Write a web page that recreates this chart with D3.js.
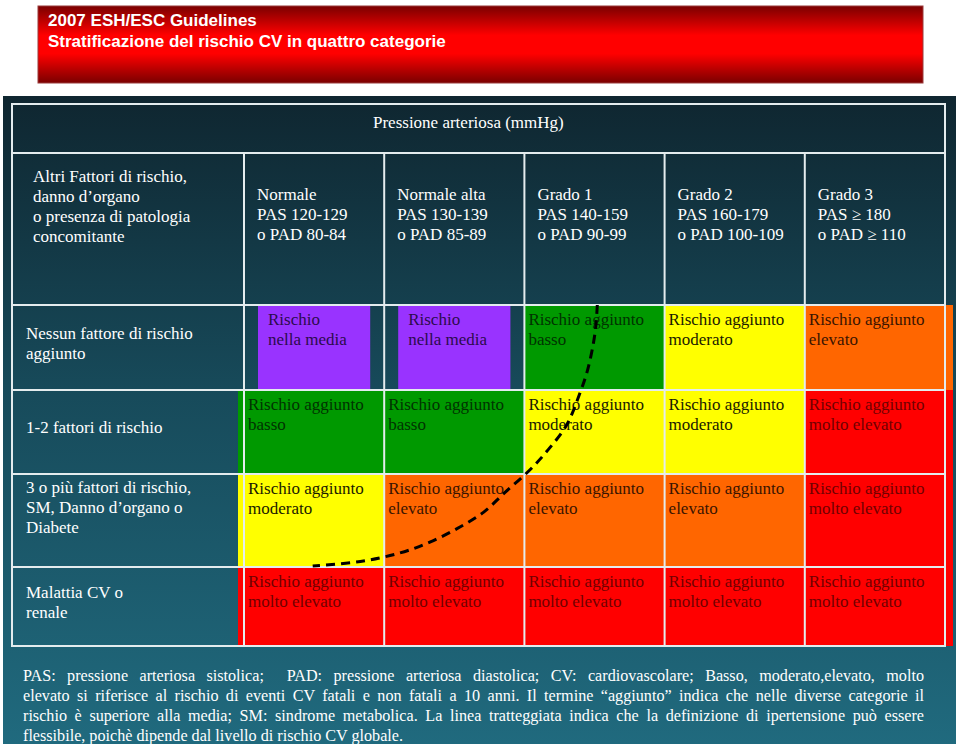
<!DOCTYPE html>
<html><head><meta charset="utf-8">
<script src="https://cdn.jsdelivr.net/npm/d3@7"></script>
<style>body{margin:0;background:#fff}svg{display:block}</style>
</head><body><svg id="c" width="960" height="746"></svg>
<script>
// ---------- data ----------
const titleLines = ["2007 ESH/ESC Guidelines", "Stratificazione del rischio CV in quattro categorie"];
const bpTitle = "Pressione arteriosa (mmHg)";
const rowHeaderTitle = ["Altri Fattori di rischio,", "danno d’organo", "o presenza di patologia", "concomitante"];
const bpCategories = [
  ["Normale", "PAS 120-129", "o PAD 80-84"],
  ["Normale alta", "PAS 130-139", "o PAD 85-89"],
  ["Grado 1", "PAS 140-159", "o PAD 90-99"],
  ["Grado 2", "PAS 160-179", "o PAD 100-109"],
  ["Grado 3", "PAS ≥ 180", "o PAD ≥ 110"]
];
const riskFactorCategories = [
  ["Nessun fattore di rischio", "aggiunto"],
  ["1-2 fattori di rischio"],
  ["3 o più fattori di rischio,", "SM, Danno d’organo o", "Diabete"],
  ["Malattia CV o", "renale"]
];
const riskLevels = ["nella media", "basso", "moderato", "elevato", "molto elevato"];
// risk level index per [risk-factor row][blood-pressure column]
const riskMatrix = [
  [0, 0, 1, 2, 3],
  [1, 1, 2, 2, 4],
  [2, 3, 3, 3, 4],
  [4, 4, 4, 4, 4]
];
// dashed threshold line, in grid units [column position, row position]
const thresholdCurve = [
  [2.52, 0.00], [2.51, 0.24], [2.49, 0.47], [2.45, 0.77], [2.40, 1.02],
  [2.30, 1.42], [2.17, 1.71], [2.04, 1.95], [1.86, 2.20], [1.71, 2.41],
  [1.54, 2.57], [1.33, 2.73], [1.11, 2.85], [0.83, 2.94], [0.49, 2.99]
];
const footnoteLines = [
  "PAS: pressione arteriosa sistolica;  PAD: pressione arteriosa diastolica; CV: cardiovascolare; Basso, moderato,elevato, molto",
  "elevato si riferisce al rischio di eventi CV fatali e non fatali a 10 anni. Il termine “aggiunto” indica che nelle diverse categorie il",
  "rischio è superiore alla media; SM: sindrome metabolica. La linea tratteggiata indica che la definizione di ipertensione può essere",
  "flessibile, poichè dipende dal livello di rischio CV globale."
];

// ---------- styles ----------
const levelFill = ["#9933ff", "#009900", "#ffff00", "#ff6600", "#ff0000"];
const levelText = ["#2c0b4d", "#003300", "#1a1a00", "#3a1400", "#700000"];
const serif = "'Liberation Serif','Times New Roman',serif";
const sans = "'Liberation Sans',Arial,sans-serif";

const svg = d3.select("#c");
const defs = svg.append("defs");

// header band gradient
const gRed = defs.append("linearGradient").attr("id", "gRed").attr("x1", 0).attr("y1", 0).attr("x2", 0).attr("y2", 1);
[[0, "#7a0000"], [0.38, "#ff0000"], [0.62, "#ff0000"], [1, "#7a0000"]].forEach(s =>
  gRed.append("stop").attr("offset", s[0]).attr("stop-color", s[1]));
// panel gradient
const gPanel = defs.append("linearGradient").attr("id", "gPanel").attr("x1", 0).attr("y1", 0).attr("x2", 0).attr("y2", 1);
[[0, "#0f2630"], [0.45, "#174a5a"], [1, "#206a7e"]].forEach(s =>
  gPanel.append("stop").attr("offset", s[0]).attr("stop-color", s[1]));

// ---------- header band ----------
svg.append("rect").attr("x", 38).attr("y", 6).attr("width", 885).attr("height", 77)
  .attr("fill", "url(#gRed)").attr("stroke", "#9a3a3a").attr("stroke-width", 1);
svg.append("g").selectAll("text").data(titleLines).join("text")
  .attr("x", 48).attr("y", (d, i) => 26 + i * 21)
  .attr("fill", "#fff").attr("font-family", sans).attr("font-weight", "bold").attr("font-size", 17)
  .text(d => d);

// ---------- panel ----------
svg.append("rect").attr("x", 3).attr("y", 96).attr("width", 953).attr("height", 648).attr("fill", "url(#gPanel)");

// ---------- scales ----------
const tableLeft = 12, tableRight = 945, tableTop = 104, headerBottom = 153;
const x = d3.scaleBand().domain(d3.range(bpCategories.length)).range([244, tableRight]).paddingInner(0).paddingOuter(0);
const y = d3.scaleLinear().domain(d3.range(riskFactorCategories.length + 1)).range([305, 390, 474, 567, 646]);
const xg = d3.scaleLinear().domain([0, bpCategories.length]).range([244, tableRight]);

// ---------- risk cells ----------
const cells = [];
riskMatrix.forEach((row, r) => row.forEach((lev, c) => cells.push({ r, c, lev })));
const cellG = svg.append("g");
cells.forEach(d => {
  let x0 = x(d.c), x1 = x(d.c) + x.bandwidth();
  if (d.c === bpCategories.length - 1) x1 = 953;
  if (d.c === 0 && d.r > 0) x0 -= 6;
  if (d.lev === 0) { x0 += 14; x1 -= 14; }
  d.x0 = x0; d.x1 = x1;
  cellG.append("rect").attr("x", x0).attr("y", y(d.r)).attr("width", x1 - x0).attr("height", y(d.r + 1) - y(d.r))
    .attr("fill", levelFill[d.lev]);
});

// ---------- grid lines ----------
const gridG = svg.append("g").attr("stroke", "#e4ecee").attr("stroke-width", 2).attr("fill", "none");
gridG.append("rect").attr("x", tableLeft).attr("y", tableTop).attr("width", tableRight - tableLeft).attr("height", y(4) - tableTop);
gridG.append("line").attr("x1", tableLeft).attr("x2", tableRight).attr("y1", headerBottom).attr("y2", headerBottom);
gridG.selectAll("line.h").data(d3.range(riskFactorCategories.length)).join("line").attr("class", "h")
  .attr("x1", tableLeft).attr("x2", tableRight).attr("y1", d => y(d)).attr("y2", d => y(d));
gridG.selectAll("line.v").data(d3.range(bpCategories.length)).join("line").attr("class", "v")
  .attr("x1", d => x(d)).attr("x2", d => x(d)).attr("y1", headerBottom).attr("y2", y(4));

// ---------- header texts ----------
const txt = svg.append("g").attr("font-family", serif).attr("font-size", 17).attr("fill", "#fff");
txt.append("text").attr("x", 373).attr("y", 128).text(bpTitle);
txt.append("g").selectAll("text").data(rowHeaderTitle).join("text")
  .attr("x", 33).attr("y", (d, i) => headerBottom + 29 + i * 20).text(d => d);
bpCategories.forEach((lines, c) => {
  txt.append("g").selectAll("text").data(lines).join("text")
    .attr("x", x(c) + 13).attr("y", (d, i) => headerBottom + 47 + i * 20).text(d => d);
});
riskFactorCategories.forEach((lines, r) => {
  const h = y(r + 1) - y(r), n = lines.length;
  const first = (n * 20 > h * 0.6) ? y(r) + 19 : (y(r) + y(r + 1)) / 2 - (n - 1) * 10 + 1;
  txt.append("g").selectAll("text").data(lines).join("text")
    .attr("x", 26).attr("y", (d, i) => first + i * 20).text(d => d);
});

// ---------- cell texts ----------
const cellTxt = svg.append("g").attr("font-family", serif).attr("font-size", 17);
cells.forEach(d => {
  const lines = d.lev === 0 ? ["Rischio", riskLevels[0]] : ["Rischio aggiunto", riskLevels[d.lev]];
  const tx = d.lev === 0 ? d.x0 + 10 : x(d.c) + 4;
  cellTxt.append("g").selectAll("text").data(lines).join("text")
    .attr("x", tx).attr("y", (t, i) => y(d.r) + 19.5 + i * 20)
    .attr("fill", levelText[d.lev]).text(t => t);
});

// ---------- dashed threshold line ----------
svg.append("path").datum(thresholdCurve)
  .attr("d", d3.line().x(p => xg(p[0])).y(p => y(p[1])).curve(d3.curveCatmullRom))
  .attr("fill", "none").attr("stroke", "#000").attr("stroke-width", 3).attr("stroke-dasharray", "9,6");

// ---------- footnote ----------
const sx = 0.95, fnLeft = 23, fnRight = 924;
const fn = svg.append("g").attr("transform", `translate(${fnLeft},0) scale(${sx},1)`)
  .attr("font-family", serif).attr("font-size", 17).attr("fill", "#fff");
footnoteLines.forEach((line, i) => {
  const t = fn.append("text").attr("x", 0).attr("y", 681 + i * 20).style("white-space", "pre").text(line);
  if (i < footnoteLines.length - 1) {
    const natural = t.node().getComputedTextLength();
    const target = (fnRight - fnLeft) / sx;
    const spaces = (line.match(/ /g) || []).length;
    t.attr("word-spacing", (target - natural) / spaces);
  }
});
</script></body></html>
